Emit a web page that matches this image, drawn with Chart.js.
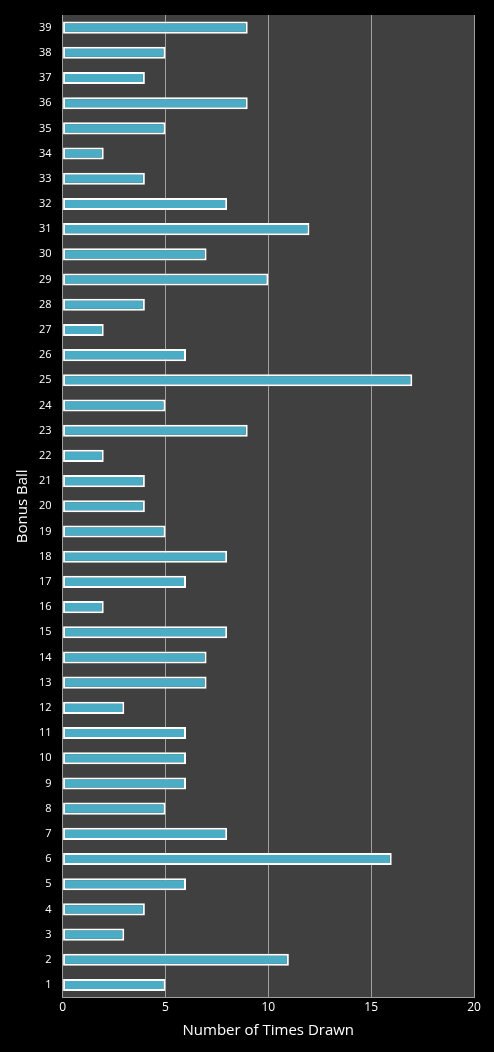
<!DOCTYPE html>
<html>
<head>
<script src="https://cdn.jsdelivr.net/npm/chart.js@4"></script>
<style>
  html, body { margin: 0; padding: 0; background: #000; }
  #wrap { width: 494px; height: 1052px; }
</style>
</head>
<body>
<div id="wrap"><canvas id="bonus_chart"></canvas></div>
<script>
const balls = [];
for (let i = 39; i >= 1; i--) balls.push(String(i));
// values for balls 39 down to 1
const timesDrawn = [9, 5, 4, 9, 5, 2, 4, 8, 12, 7, 10, 4, 2, 6, 17, 5, 9, 2, 4, 4, 5, 8, 6, 2, 8, 7, 7, 3, 6, 6, 6, 5, 8, 16, 6, 4, 3, 11, 5];

const plotBackground = {
    id: 'plotBackground',
    beforeDraw(chart) {
        const {ctx, chartArea: a} = chart;
        ctx.save();
        ctx.fillStyle = '#404040';
        ctx.fillRect(a.left, a.top, a.right - a.left, a.bottom - a.top);
        ctx.restore();
    }
};

const ctx = document.getElementById('bonus_chart').getContext('2d');
new Chart(ctx, {
    type: 'bar',
    data: {
        labels: balls,
        datasets: [{
            data: timesDrawn,
            backgroundColor: '#4bacc6',
            borderColor: '#ffffff',
            borderWidth: 2,
            borderSkipped: false,
            categoryPercentage: 0.6,
            barPercentage: 0.8
        }]
    },
    options: {
        indexAxis: 'y',
        responsive: true,
        maintainAspectRatio: false,
        animation: false,
        layout: { padding: { top: 15, right: 20, left: 10, bottom: 8 } },
        plugins: { legend: { display: false }, tooltip: { enabled: false } },
        scales: {
            x: {
                min: 0, max: 20,
                ticks: { stepSize: 5, color: '#ffffff', font: { family: 'Open Sans', size: 12 } },
                grid: { color: '#a0a0a0', drawTicks: false },
                border: { color: '#a0a0a0' },
                title: { display: true, text: 'Number of Times Drawn', color: '#ffffff', font: { family: 'Open Sans', size: 15 } }
            },
            y: {
                ticks: { color: '#ffffff', font: { family: 'Open Sans', size: 11 }, autoSkip: false },
                grid: { display: false },
                border: { color: '#a0a0a0' },
                title: { display: true, text: 'Bonus Ball', color: '#ffffff', font: { family: 'Open Sans', size: 15 } }
            }
        }
    },
    plugins: [plotBackground]
});
</script>
</body>
</html>
